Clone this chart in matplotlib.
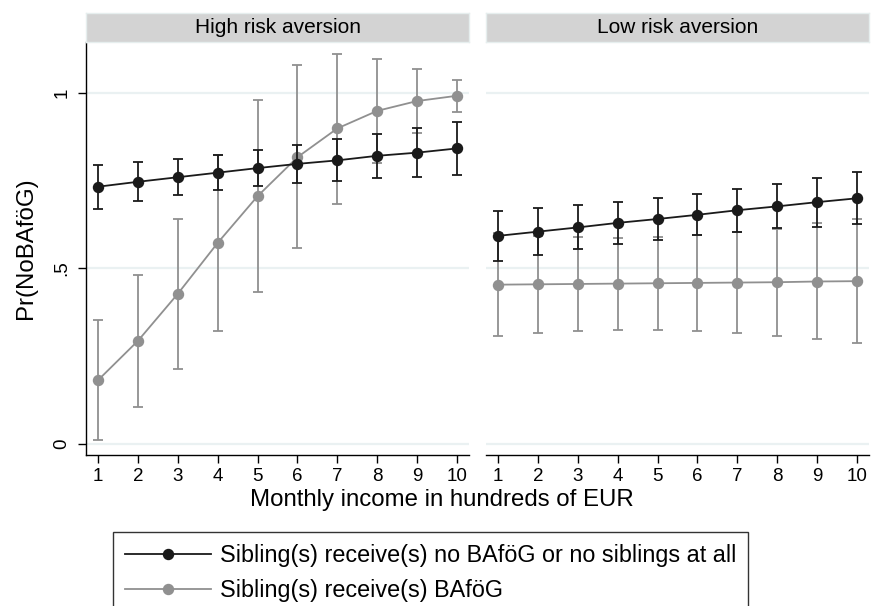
import matplotlib.pyplot as plt
import numpy as np

plt.rcParams['font.family'] = ['Liberation Sans', 'DejaVu Sans']

income = [1, 2, 3, 4, 5, 6, 7, 8, 9, 10]
panels = ["High risk aversion", "Low risk aversion"]
series_labels = ["Sibling(s) receive(s) no BAföG or no siblings at all",
                 "Sibling(s) receive(s) BAföG"]

# high risk aversion
high_no = [0.732, 0.746, 0.759, 0.772, 0.785, 0.797, 0.807, 0.820, 0.829, 0.841]
high_no_lo = [0.669, 0.691, 0.709, 0.723, 0.734, 0.743, 0.749, 0.756, 0.761, 0.766]
high_no_hi = [0.795, 0.801, 0.810, 0.821, 0.836, 0.851, 0.868, 0.883, 0.900, 0.917]
high_yes = [0.181, 0.293, 0.427, 0.572, 0.705, 0.816, 0.898, 0.948, 0.976, 0.991]
high_yes_lo = [0.011, 0.105, 0.214, 0.321, 0.432, 0.556, 0.684, 0.800, 0.885, 0.945]
high_yes_hi = [0.352, 0.481, 0.640, 0.821, 0.978, 1.078, 1.110, 1.097, 1.067, 1.037]

# low risk aversion
low_no = [0.592, 0.604, 0.616, 0.629, 0.640, 0.652, 0.665, 0.676, 0.688, 0.699]
low_no_lo = [0.519, 0.537, 0.554, 0.569, 0.581, 0.595, 0.603, 0.613, 0.618, 0.625]
low_no_hi = [0.664, 0.671, 0.679, 0.688, 0.699, 0.711, 0.726, 0.740, 0.757, 0.773]
low_yes = [0.453, 0.454, 0.455, 0.456, 0.457, 0.458, 0.459, 0.460, 0.462, 0.463]
low_yes_lo = [0.308, 0.316, 0.322, 0.325, 0.325, 0.321, 0.315, 0.308, 0.297, 0.286]
low_yes_hi = [0.599, 0.593, 0.588, 0.587, 0.589, 0.595, 0.602, 0.612, 0.628, 0.641]

yticks = [0, 0.5, 1]
yticklabels = ["0", ".5", "1"]

BLACK = '#1a1a1a'
GRAY = '#909090'
W, H = 871, 606

fig = plt.figure(figsize=(W / 100, H / 100), dpi=100)


def px_axes(x0, y0, x1, y1):
    return fig.add_axes([x0 / W, 1 - y1 / H, (x1 - x0) / W, (y1 - y0) / H])


panel_data = [
    [(high_no, high_no_lo, high_no_hi), (high_yes, high_yes_lo, high_yes_hi)],
    [(low_no, low_no_lo, low_no_hi), (low_yes, low_yes_lo, low_yes_hi)],
]
lefts = [85.7, 485.7]
handles = []

for i, (title, data) in enumerate(zip(panels, panel_data)):
    x0 = lefts[i]
    x1 = x0 + 383.6
    ax = px_axes(x0, 41.7, x1, 455.3)
    for (mid, lo, hi), col, lab in zip(data, [BLACK, GRAY], series_labels):
        mid = np.array(mid)
        err = [mid - np.array(lo), np.array(hi) - mid]
        ax.errorbar(income, mid, yerr=err, fmt='none', ecolor=col,
                    elinewidth=1.3, capsize=3.3, capthick=1.3, zorder=3 if col == BLACK else 2)
        h, = ax.plot(income, mid, '-o', color=col, lw=1.3, ms=7.2,
                     zorder=4 if col == BLACK else 2.5, label=lab)
        if i == 0:
            handles.append(h)
    ax.set_xlim(0.69, 10.31)
    ax.set_ylim(-0.033, 1.145)
    ax.set_xticks(income)
    ax.set_xticklabels([str(v) for v in income], fontsize=13.5)
    ax.set_yticks(yticks)
    for y in yticks:
        ax.axhline(y, color='#eaf1f2', lw=1.6, zorder=0)
    for s in ['top', 'right']:
        ax.spines[s].set_visible(False)
    ax.spines['bottom'].set_linewidth(1.0)
    ax.spines['left'].set_linewidth(1.0)
    ax.tick_params(axis='x', length=6, width=1.0, pad=3)
    if i == 0:
        ax.set_yticklabels(yticklabels, fontsize=13.5, rotation=90, va='center')
        ax.tick_params(axis='y', length=6, width=1.0, pad=5)
        ax.set_ylabel("Pr(NoBAföG)", fontsize=17.3, labelpad=12)
    else:
        ax.spines['left'].set_visible(False)
        ax.tick_params(axis='y', left=False, labelleft=False)

    strip = px_axes(x0, 13.3, x1, 41.7)
    strip.set_facecolor('#d3d3d3')
    strip.set_xticks([])
    strip.set_yticks([])
    for s in strip.spines.values():
        s.set_color('#e6eeee')
        s.set_linewidth(1.0)
    strip.text(0.5, 0.5, title, ha='center', va='center', fontsize=15,
               transform=strip.transAxes)

fig.text(442 / W, 1 - 500 / H, "Monthly income in hundreds of EUR",
         ha='center', va='center', fontsize=17.3)

leg = fig.legend(handles=handles, loc='upper left',
                 bbox_to_anchor=(113 / W, 1 - 532.3 / H), fontsize=16.8,
                 frameon=True, fancybox=False, handlelength=3.7,
                 handletextpad=0.4, labelspacing=0.52, borderpad=0.5,
                 borderaxespad=0)
leg.get_frame().set_edgecolor('black')
leg.get_frame().set_linewidth(1.0)

fig.savefig('out.png', dpi=100)
